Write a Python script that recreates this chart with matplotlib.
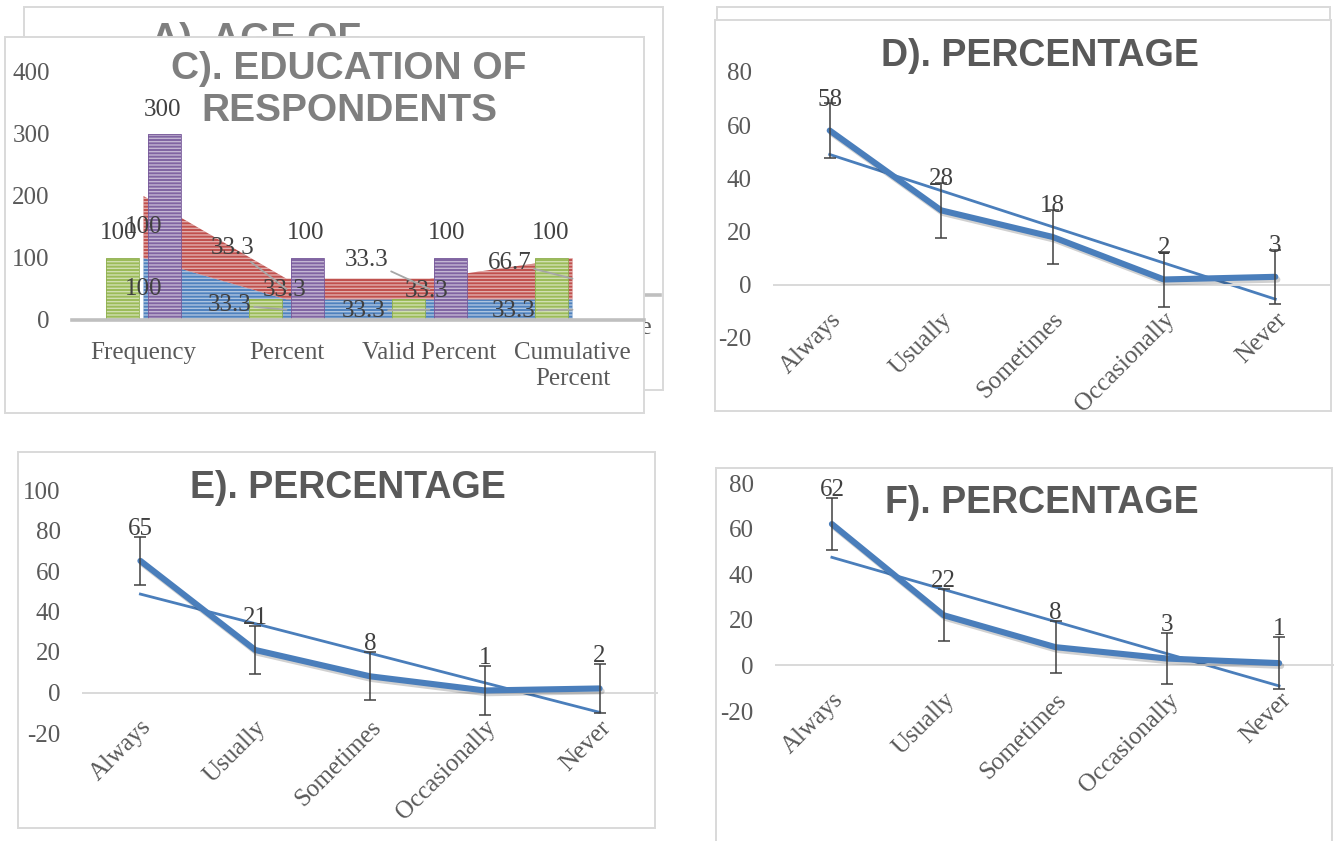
import numpy as np
import matplotlib
matplotlib.use("Agg")
import matplotlib.pyplot as plt
from matplotlib.patches import Rectangle
import matplotlib.patheffects as pe

W, H = 1334, 841

# ---------------- data ----------------
edu_categories = ["Frequency", "Percent", "Valid Percent", "Cumulative\nPercent"]
edu_row1 = [100, 33.3, 33.3, 33.3]       # blue stacked area
edu_row2 = [100, 33.3, 33.3, 66.7]       # red stacked area
edu_row3 = [100, 33.3, 33.3, 100]        # green bars
edu_total = [300, 100, 100, np.nan]      # purple bars

freq_categories = ["Always", "Usually", "Sometimes", "Occasionally", "Never"]
pct_d = [58, 28, 18, 2, 3]
pct_e = [65, 21, 8, 1, 2]
pct_f = [62, 22, 8, 3, 1]

# ---------------- style ----------------
BLUE, RED, GREEN, PURPLE = "#4F81BD", "#C0504D", "#9BBB59", "#8064A2"
GREEN_EDGE, PURPLE_EDGE = "#8FAF50", "#77599A"
LINE = "#4A7EBB"
STRIPE = "#FFFFFF88"
FRAME = "#D9D9D9"
TXT = "#595959"
LBL = "#404040"
SERIF = ["Liberation Serif", "DejaVu Serif"]
SANS = ["Liberation Sans", "DejaVu Sans"]
TICK_FS = 18

plt.rcParams["font.family"] = SERIF
plt.rcParams["axes.unicode_minus"] = False
plt.rcParams["hatch.linewidth"] = 1.0
plt.rcParams["hatch.color"] = STRIPE

fig = plt.figure(figsize=(W / 100, H / 100), dpi=100)
fig.patch.set_facecolor("white")


def rect(x0, y0, x1, y1):
    return [x0 / W, 1 - y1 / H, (x1 - x0) / W, (y1 - y0) / H]


def frame(x0, y0, x1, y1, z):
    fig.add_artist(Rectangle((x0 / W, 1 - y1 / H), (x1 - x0) / W, (y1 - y0) / H,
                             transform=fig.transFigure, facecolor="white",
                             edgecolor=FRAME, linewidth=1.4, zorder=z))


def title(x, y, s, size, color, z, spacing=1.08):
    # y is the baseline of the last line
    fig.text(x / W, 1 - y / H, s, ha="center", va="baseline", fontsize=size,
             fontweight="bold", color=color, family=SANS, linespacing=spacing, zorder=z)


def bare_axes(ax):
    ax.set_facecolor("none")
    for s in ("top", "right", "left"):
        ax.spines[s].set_visible(False)
    ax.tick_params(axis="both", length=0)
    ax.tick_params(axis="y", pad=16, labelsize=TICK_FS, labelcolor=TXT)


# ---------------- A (behind) ----------------
frame(24, 7, 663, 390, 0.5)
title(256, 50, "A). AGE OF", 28, "#7F7F7F", 1)
axa = fig.add_axes(rect(86, 80, 660, 295), zorder=1)
bare_axes(axa)
axa.spines["bottom"].set_color("#BFBFBF")
axa.spines["bottom"].set_linewidth(2.6)
axa.set_xlim(-0.5, 3.46)
axa.set_yticks([])
axa.set_xticks(np.arange(len(edu_categories)))
axa.set_xticklabels(edu_categories, fontsize=TICK_FS, color=TXT, linespacing=1.25)
axa.tick_params(axis="x", pad=16)

# ---------------- C ----------------
frame(5, 37, 644, 413, 2)
axc = fig.add_axes(rect(72, 72, 644, 320), zorder=3)
bare_axes(axc)
axc.spines["bottom"].set_color("#BFBFBF")
axc.spines["bottom"].set_linewidth(2.6)
xc = np.arange(len(edu_categories))
r1 = np.array(edu_row1, float)
r2 = np.array(edu_row2, float)
r3 = np.array(edu_row3, float)
rt = np.array(edu_total, float)
axc.fill_between(xc, 0, r1, facecolor=BLUE, edgecolor=STRIPE, hatch="-----",
                 linewidth=0, zorder=1)
axc.fill_between(xc, r1, r1 + r2, facecolor=RED, edgecolor=STRIPE, hatch="-----",
                 linewidth=0, zorder=1)
off, bw = 0.148, 0.23
ok = ~np.isnan(rt)
for xs, hs, fc, ec in ((xc - off, r3, GREEN, GREEN_EDGE),
                       (xc[ok] + off, rt[ok], PURPLE, PURPLE_EDGE)):
    axc.bar(xs, hs, width=bw, color=fc, edgecolor=STRIPE, hatch="-----",
            linewidth=0, zorder=2)
    axc.bar(xs, hs, width=bw, fill=False, edgecolor=ec, linewidth=0.6, zorder=2.1)
axc.set_xlim(-0.5, 3.5)
axc.set_ylim(0, 400)
axc.set_yticks([0, 100, 200, 300, 400])
axc.set_xticks(xc)
axc.set_xticklabels(edu_categories, fontsize=TICK_FS, color=TXT, linespacing=1.25)
axc.tick_params(axis="x", pad=16)


def fmt(v):
    return f"{v:g}"


# label offsets in pixels (text centre relative to the anchor point)
green_off = [(-4, 25), (19, 9), (18, 8), (-1, 25)]
purple_off = [(-2, 24), (-2, 25), (-4, 25), (0, 25)]
red_off = [(0, 0), (-54, 41), (-63, 29), (-63, 16)]
blue_off = [(0, 0), (-57, 5), (-66, -1), (-59, -1)]

lab_kw = dict(textcoords="offset pixels", ha="center", va="center",
              fontsize=TICK_FS, color=LBL, zorder=6)
lead = dict(arrowstyle="-", color="#A6A6A6", lw=1.3, shrinkA=0, shrinkB=0)
for i in xc:
    axc.annotate(fmt(r3[i]), (i - off, r3[i]), xytext=green_off[i], **lab_kw)
    if ok[i]:
        axc.annotate(fmt(rt[i]), (i + off, rt[i]), xytext=purple_off[i], **lab_kw)
    axc.annotate(fmt(r2[i]), (i, r1[i] + r2[i] / 2), xytext=red_off[i],
                 arrowprops=lead if red_off[i] != (0, 0) else None, **lab_kw)
    axc.annotate(fmt(r1[i]), (i, r1[i] / 2), xytext=blue_off[i],
                 arrowprops=lead if blue_off[i] != (0, 0) else None, **lab_kw)

title(349, 121, "C). EDUCATION OF\nRESPONDENTS", 28, "#7F7F7F", 4, spacing=1.2)


# ---------------- D / E / F ----------------
def line_panel(box, values, ylim, yticks, label_dy, z):
    ax = fig.add_axes(rect(*box), zorder=z)
    bare_axes(ax)
    x = np.arange(len(values))
    v = np.array(values, float)
    se = v.std(ddof=1) / np.sqrt(len(v))
    slope, icpt = np.polyfit(x, v, 1)
    ax.plot(x, slope * x + icpt, color=LINE, lw=2.0, zorder=2)
    ax.plot(x, v, color=LINE, lw=4.4, solid_capstyle="round",
            solid_joinstyle="round", zorder=3,
            path_effects=[pe.SimpleLineShadow(offset=(1.5, -2), shadow_color="black",
                                              alpha=0.18), pe.Normal()])
    ax.errorbar(x, v, yerr=se, fmt="none", ecolor=LBL, elinewidth=1.1,
                capsize=4.5, capthick=1.1, zorder=4)
    for xi, val in zip(x, values):
        ax.annotate(str(val), (xi, val), xytext=(0, label_dy), **lab_kw)
    ax.set_xlim(-0.5, len(values) - 0.5)
    ax.set_ylim(*ylim)
    ax.set_yticks(yticks)
    ax.spines["bottom"].set_position(("data", 0))
    ax.spines["bottom"].set_color(FRAME)
    ax.spines["bottom"].set_linewidth(1.4)
    ax.set_xticks(x)
    ax.set_xticklabels(freq_categories, rotation=45, ha="right",
                       rotation_mode="anchor", fontsize=TICK_FS, color=TXT)
    ax.tick_params(axis="x", pad=17)
    return ax


frame(717, 7, 1330, 400, 0.5)
frame(715, 20, 1331, 411, 2)
line_panel((774, 72, 1331, 338), pct_d, (-20, 80), np.arange(-20, 81, 20), 31, 3)
title(1040, 65.5, "D). PERCENTAGE", 27, TXT, 4)

frame(18, 452, 655, 828, 2)
line_panel((83, 490, 657, 733), pct_e, (-20, 100), np.arange(-20, 101, 20), 32, 3)
title(348, 498, "E). PERCENTAGE", 27, TXT, 4)

frame(716, 468, 1332, 850, 2)
line_panel((776, 483, 1335, 711), pct_f, (-20, 80), np.arange(-20, 81, 20), 34, 3)
title(1042, 513, "F). PERCENTAGE", 27, TXT, 4)

fig.savefig("out.png", dpi=100, facecolor="white")
